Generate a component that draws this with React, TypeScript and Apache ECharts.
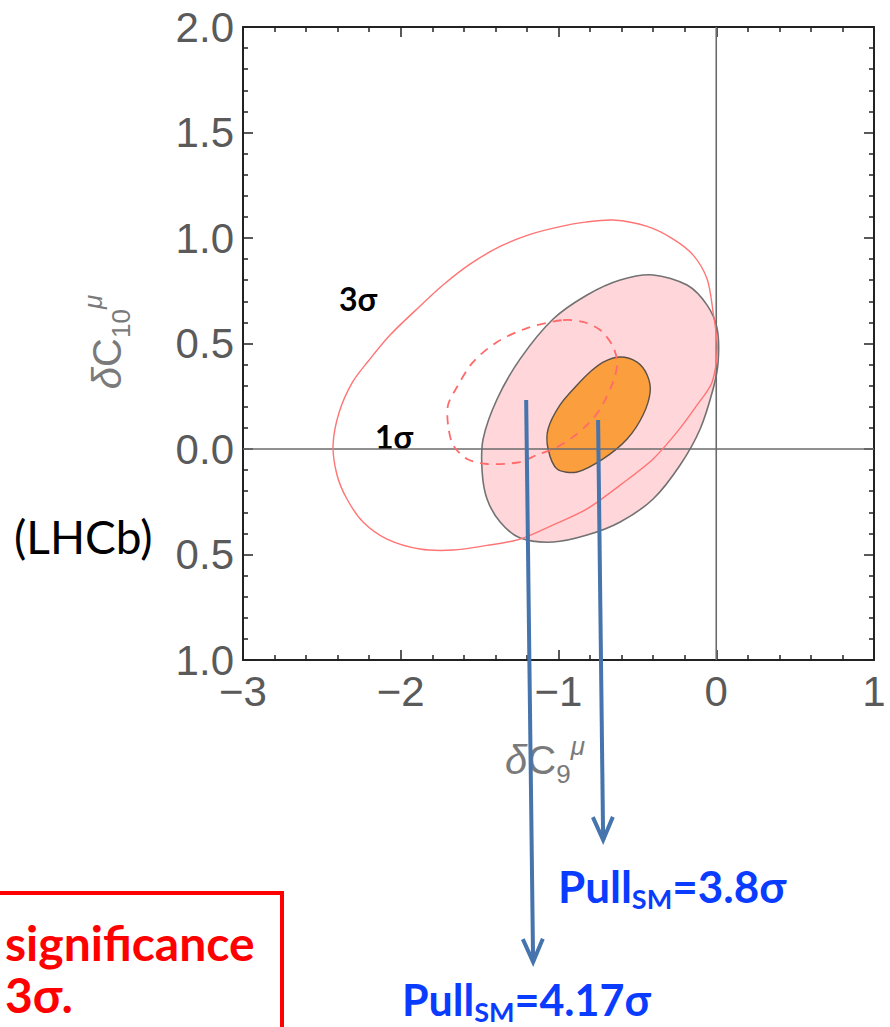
import React, { useEffect, useRef } from "react";
import * as echarts from "echarts";

// Axis ranges / ticks
const xRange = [-3, 1];
const yRange = [-1, 2];
const xInterval = 1;
const yInterval = 0.5;

// Outer (LHCb) 3-sigma contour, solid thin red outline
const outerContour: [number, number][] = [
  [0.006, 0.483], [-0.026, 0.318], [-0.121, 0.209], [-0.248, 0.081], [-0.4, -0.047],
  [-0.609, -0.171], [-0.819, -0.284], [-1.034, -0.36], [-1.243, -0.427], [-1.453, -0.457],
  [-1.668, -0.479], [-1.878, -0.474], [-2.087, -0.427], [-2.239, -0.346], [-2.341, -0.237],
  [-2.404, -0.123], [-2.429, 0.019], [-2.39, 0.175], [-2.305, 0.318], [-2.2, 0.422],
  [-2.068, 0.54], [-1.897, 0.664], [-1.732, 0.777], [-1.561, 0.876], [-1.37, 0.96],
  [-1.18, 1.017], [-0.99, 1.054], [-0.831, 1.075], [-0.654, 1.085], [-0.438, 1.055],
  [-0.273, 0.995], [-0.146, 0.919], [-0.058, 0.806], [-0.02, 0.649],
];

// Pink filled region (gray border)
const pinkRegion: [number, number][] = [
  [-0.4, 0.825], [-0.185, 0.777], [-0.058, 0.682], [0.006, 0.569], [0.012, 0.412],
  [-0.02, 0.284], [-0.102, 0.095], [-0.229, -0.076], [-0.4, -0.237], [-0.609, -0.346],
  [-0.819, -0.408], [-1.034, -0.441], [-1.243, -0.422], [-1.37, -0.346], [-1.453, -0.237],
  [-1.484, -0.109], [-1.478, 0.047], [-1.389, 0.237], [-1.243, 0.427], [-1.034, 0.616],
  [-0.819, 0.73], [-0.609, 0.801],
];

// Orange filled region (1-sigma)
const orangeRegion: [number, number][] = [
  [-0.609, 0.436], [-0.502, 0.412], [-0.438, 0.351], [-0.419, 0.27], [-0.464, 0.161],
  [-0.565, 0.047], [-0.717, -0.047], [-0.882, -0.109], [-1.009, -0.095], [-1.066, 0.0],
  [-1.066, 0.095], [-0.99, 0.209], [-0.882, 0.303], [-0.8, 0.365], [-0.717, 0.412],
];

// Dashed red contour
const dashedContour: [number, number][] = [
  [-0.971, 0.611], [-0.844, 0.602], [-0.736, 0.564], [-0.66, 0.493], [-0.628, 0.412],
  [-0.654, 0.318], [-0.736, 0.19], [-0.819, 0.114], [-0.926, 0.047], [-1.034, 0.0],
  [-1.136, -0.028], [-1.243, -0.062], [-1.453, -0.071], [-1.58, -0.047], [-1.668, 0.019],
  [-1.7, 0.114], [-1.7, 0.209], [-1.643, 0.294], [-1.542, 0.412], [-1.389, 0.507],
  [-1.199, 0.573],
];

// Annotation arrows (start, end) in data coordinates
const arrowA: [number, number][] = [[-1.205, 0.232], [-1.161, -2.431]];
const arrowB: [number, number][] = [[-0.749, 0.137], [-0.717, -1.853]];

const TICK_FONT = "'Liberation Sans', Arial, sans-serif";
const CAL_FONT = "Lato, 'Open Sans', 'Noto Sans', sans-serif";

function polySeries(name: string, pts: [number, number][], style: any, z: number) {
  return {
    type: "custom",
    name,
    z,
    silent: true,
    coordinateSystem: "cartesian2d",
    data: [[pts[0][0], pts[0][1]]],
    renderItem: (_params: any, api: any) => {
      const points = pts.map((p) => api.coord(p));
      return { type: "polygon", shape: { points, smooth: 0.3 }, style };
    },
  };
}

function arrowSeries(name: string, seg: [number, number][], z: number) {
  return {
    type: "custom",
    name,
    z,
    silent: true,
    clip: false,
    coordinateSystem: "cartesian2d",
    data: [[seg[0][0], seg[0][1]]],
    renderItem: (_params: any, api: any) => {
      const a = api.coord(seg[0]);
      const b = api.coord(seg[1]);
      const dx = b[0] - a[0];
      const dy = b[1] - a[1];
      const len = Math.sqrt(dx * dx + dy * dy);
      const ux = dx / len;
      const uy = dy / len;
      const head = 23;
      const half = 10;
      const bx = b[0] - ux * head;
      const by = b[1] - uy * head;
      const p1 = [bx - uy * half, by + ux * half];
      const p2 = [bx + uy * half, by - ux * half];
      const color = "#4674ad";
      return {
        type: "group",
        children: [
          { type: "line", shape: { x1: a[0], y1: a[1], x2: b[0], y2: b[1] }, style: { stroke: color, lineWidth: 4 } },
          { type: "polyline", shape: { points: [p1, b, p2] }, style: { stroke: color, lineWidth: 4, fill: null } },
        ],
      };
    },
  };
}

function zeroLineSeries(z: number) {
  return {
    type: "custom",
    name: "zero",
    z,
    silent: true,
    coordinateSystem: "cartesian2d",
    data: [[0, 0]],
    renderItem: (_params: any, api: any) => {
      const h1 = api.coord([xRange[0], 0]);
      const h2 = api.coord([xRange[1], 0]);
      const v1 = api.coord([0, yRange[0]]);
      const v2 = api.coord([0, yRange[1]]);
      const st = { stroke: "#6b6b6b", lineWidth: 1.6 };
      return {
        type: "group",
        children: [
          { type: "line", shape: { x1: h1[0], y1: h1[1], x2: h2[0], y2: h2[1] }, style: st },
          { type: "line", shape: { x1: v1[0], y1: v1[1], x2: v2[0], y2: v2[1] }, style: st },
        ],
      };
    },
  };
}

const frameColor = "#222";
const labelColor = "#5a5a5a";

function makeXAxis(position: string, showLabel: boolean) {
  return {
    type: "value",
    min: xRange[0],
    max: xRange[1],
    interval: xInterval,
    position,
    axisLine: { show: true, onZero: false, lineStyle: { color: frameColor, width: 2 } },
    axisTick: { show: true, inside: true, length: 10, lineStyle: { color: frameColor, width: 1.5 } },
    minorTick: { show: true, splitNumber: 5, length: 5, lineStyle: { color: frameColor, width: 1.5 } },
    splitLine: { show: false },
    minorSplitLine: { show: false },
    axisLabel: {
      show: showLabel,
      fontSize: 42,
      color: labelColor,
      fontFamily: TICK_FONT,
      margin: 10,
      showMinLabel: true,
      showMaxLabel: true,
      formatter: (v: number) => (v < 0 ? "\u2212" + Math.abs(v) : String(v)),
    },
  };
}

function makeYAxis(position: string, showLabel: boolean) {
  return {
    type: "value",
    min: yRange[0],
    max: yRange[1],
    interval: yInterval,
    position,
    axisLine: { show: true, onZero: false, lineStyle: { color: frameColor, width: 2 } },
    axisTick: { show: true, inside: true, length: 10, lineStyle: { color: frameColor, width: 1.5 } },
    minorTick: { show: true, splitNumber: 5, length: 5, lineStyle: { color: frameColor, width: 1.5 } },
    splitLine: { show: false },
    minorSplitLine: { show: false },
    axisLabel: {
      show: showLabel,
      fontSize: 42,
      color: labelColor,
      fontFamily: TICK_FONT,
      margin: 9,
      showMinLabel: true,
      showMaxLabel: true,
      formatter: (v: number) => Math.abs(v).toFixed(1),
    },
  };
}

function axisTitleRich(base: number, sub: number) {
  const col = "#7a7a7a";
  return {
    d: { fontSize: base, fontStyle: "italic", fontFamily: TICK_FONT, fill: col, verticalAlign: "middle", lineHeight: 54 },
    c: { fontSize: base, fontFamily: TICK_FONT, fill: col, verticalAlign: "middle", lineHeight: 54 },
    b: { fontSize: sub, fontFamily: TICK_FONT, fill: col, verticalAlign: "bottom", lineHeight: sub },
    t: { fontSize: sub, fontStyle: "italic", fontFamily: TICK_FONT, fill: col, verticalAlign: "top", lineHeight: sub },
  };
}

function pullRich(size: number) {
  const col = "#0a3cff";
  return {
    m: { fontSize: size, fontWeight: "bold", fontFamily: CAL_FONT, fill: col, verticalAlign: "middle", lineHeight: size + 8 },
    s: { fontSize: Math.round(size * 0.62), fontWeight: "bold", fontFamily: CAL_FONT, fill: col, verticalAlign: "bottom", lineHeight: Math.round(size * 0.62) },
  };
}

export default function App() {
  const ref = useRef<HTMLDivElement>(null);

  useEffect(() => {
    document.body.style.margin = "0";
    document.body.style.overflow = "hidden";
    if (!ref.current) return;
    const chart = echarts.init(ref.current, null, { renderer: "svg" });

    const option: any = {
      animation: false,
      backgroundColor: "#fff",
      grid: { left: 243, right: 16, top: 27, bottom: 367, containLabel: false },
      xAxis: [makeXAxis("bottom", true), makeXAxis("top", false)],
      yAxis: [makeYAxis("left", true), makeYAxis("right", false)],
      series: [
        polySeries("pink", pinkRegion, { fill: "#ffd7da", stroke: "#727272", lineWidth: 1.6 }, 2),
        polySeries("orange", orangeRegion, { fill: "#fb9f3e", stroke: "#5a5048", lineWidth: 1.4 }, 3),
        zeroLineSeries(4),
        polySeries("outer", outerContour, { fill: "none", stroke: "#ff7474", lineWidth: 1.4 }, 5),
        polySeries("dashed", dashedContour, { fill: "none", stroke: "#ff6a6a", lineWidth: 1.8, lineDash: [9, 7] }, 6),
        arrowSeries("arrowA", arrowA, 10),
        arrowSeries("arrowB", arrowB, 10),
      ],
      graphic: [
        {
          type: "text",
          x: 107,
          y: 342,
          rotation: Math.PI / 2,
          style: {
            text: "{d|δ}{c|C}{b|10}{t|μ}",
            rich: axisTitleRich(40, 26),
            align: "center",
            verticalAlign: "middle",
          },
        },
        {
          type: "text",
          x: 545,
          y: 760,
          style: {
            text: "{d|δ}{c|C}{b|9}{t|μ}",
            rich: axisTitleRich(40, 26),
            align: "center",
            verticalAlign: "middle",
          },
        },
        {
          type: "text",
          x: 358,
          y: 298,
          style: { text: "3σ", fontSize: 32, fontWeight: "bold", fontFamily: CAL_FONT, fill: "#000", align: "center", verticalAlign: "middle" },
        },
        {
          type: "text",
          x: 394,
          y: 436,
          style: { text: "1σ", fontSize: 32, fontWeight: "bold", fontFamily: CAL_FONT, fill: "#000", align: "center", verticalAlign: "middle" },
        },
        {
          type: "text",
          x: 14,
          y: 536,
          style: { text: "(LHCb)", fontSize: 46, fontFamily: CAL_FONT, fill: "#000", align: "left", verticalAlign: "middle" },
        },
        {
          type: "text",
          x: 558,
          y: 886,
          style: { text: "{m|Pull}{s|SM}{m|=3.8σ}", rich: pullRich(44), align: "left", verticalAlign: "middle" },
        },
        {
          type: "text",
          x: 402,
          y: 999,
          style: { text: "{m|Pull}{s|SM}{m|=4.17σ}", rich: pullRich(43), align: "left", verticalAlign: "middle" },
        },
        {
          type: "rect",
          shape: { x: -20, y: 893, width: 302, height: 200 },
          style: { fill: "none", stroke: "#ff0000", lineWidth: 4 },
        },
        {
          type: "text",
          x: 5,
          y: 942,
          style: { text: "significance", fontSize: 48, fontWeight: "bold", fontFamily: CAL_FONT, fill: "#ff0000", align: "left", verticalAlign: "middle" },
        },
        {
          type: "text",
          x: 5,
          y: 994,
          style: { text: "3σ.", fontSize: 48, fontWeight: "bold", fontFamily: CAL_FONT, fill: "#ff0000", align: "left", verticalAlign: "middle" },
        },
      ],
    };

    chart.setOption(option);
    return () => {
      chart.dispose();
    };
  }, []);

  return <div ref={ref} style={{ width: 890, height: 1027 }} />;
}
